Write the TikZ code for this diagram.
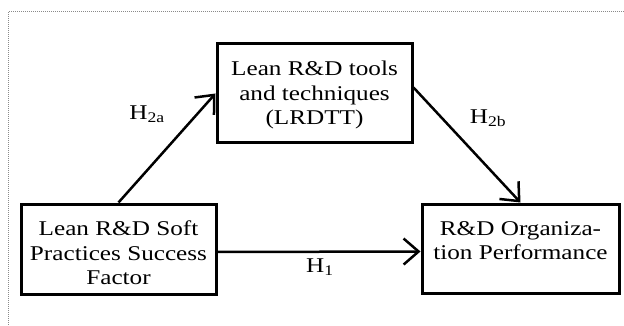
\documentclass[tikz,border=0pt]{standalone}
\usepackage{fontspec}
\setmainfont{Liberation Serif}[FakeStretch=1.2]
\usepackage{tikz}
\usepackage{xcolor}
\usetikzlibrary{arrows.meta,positioning}
\definecolor{FrameGray}{HTML}{8A8A8A}
% invisible rule that pushes the first line of a box down
\newcommand{\toppad}[1]{\rule{0pt}{#1}}

\begin{document}
\begin{tikzpicture}[x=1pt, y=-1pt,
    >={Straight Barb[length=15pt,width=26pt]},
    constr/.style={draw, line width=3pt, align=center, inner sep=0pt,
        font=\fontsize{21}{24.5}\selectfont},
    hyp/.style={font=\fontsize{21}{24.5}\selectfont},
    link/.style={->, line width=2.5pt}]
    \useasboundingbox (0,0) rectangle (624,326);

    % Dotted frame (only top and left edges visible)
    \draw[densely dotted, FrameGray, line width=1pt] (640,12) -- (8,12) -- (8,340);

    % Mediator
    \node[constr, minimum width=195pt, minimum height=99pt] (lrdtt) at (314.5,93.5)
        {\toppad{18pt}Lean R\&D tools\\and techniques\\(LRDTT)};

    % Independent variable
    \node[constr, minimum width=195pt, minimum height=90pt] (soft) at (118.5,249)
        {\toppad{22.7pt}Lean R\&D Soft\\Practices Success\\Factor};

    % Dependent variable
    \node[constr, minimum width=197pt, minimum height=89pt] (perf) at (520.5,248.5)
        {\toppad{22.7pt}R\&D Organiza-\\tion Performance\\\phantom{Factor}};

    % Hypotheses
    \draw[link] (soft.north) -- (lrdtt.west);
    \draw[link] ([yshift=6pt]lrdtt.east) -- (perf.north);
    \draw[link] ([yshift=-3pt]soft.east) -- ([yshift=-3pt]perf.west);

    \node[hyp] (h2a) at (147,114) {H\textsubscript{2a}};
    \node[hyp] (h2b) at (488,118) {H\textsubscript{2b}};
    \node[hyp] (h1) at (320,267) {H\textsubscript{1}};

\end{tikzpicture}
\end{document}
